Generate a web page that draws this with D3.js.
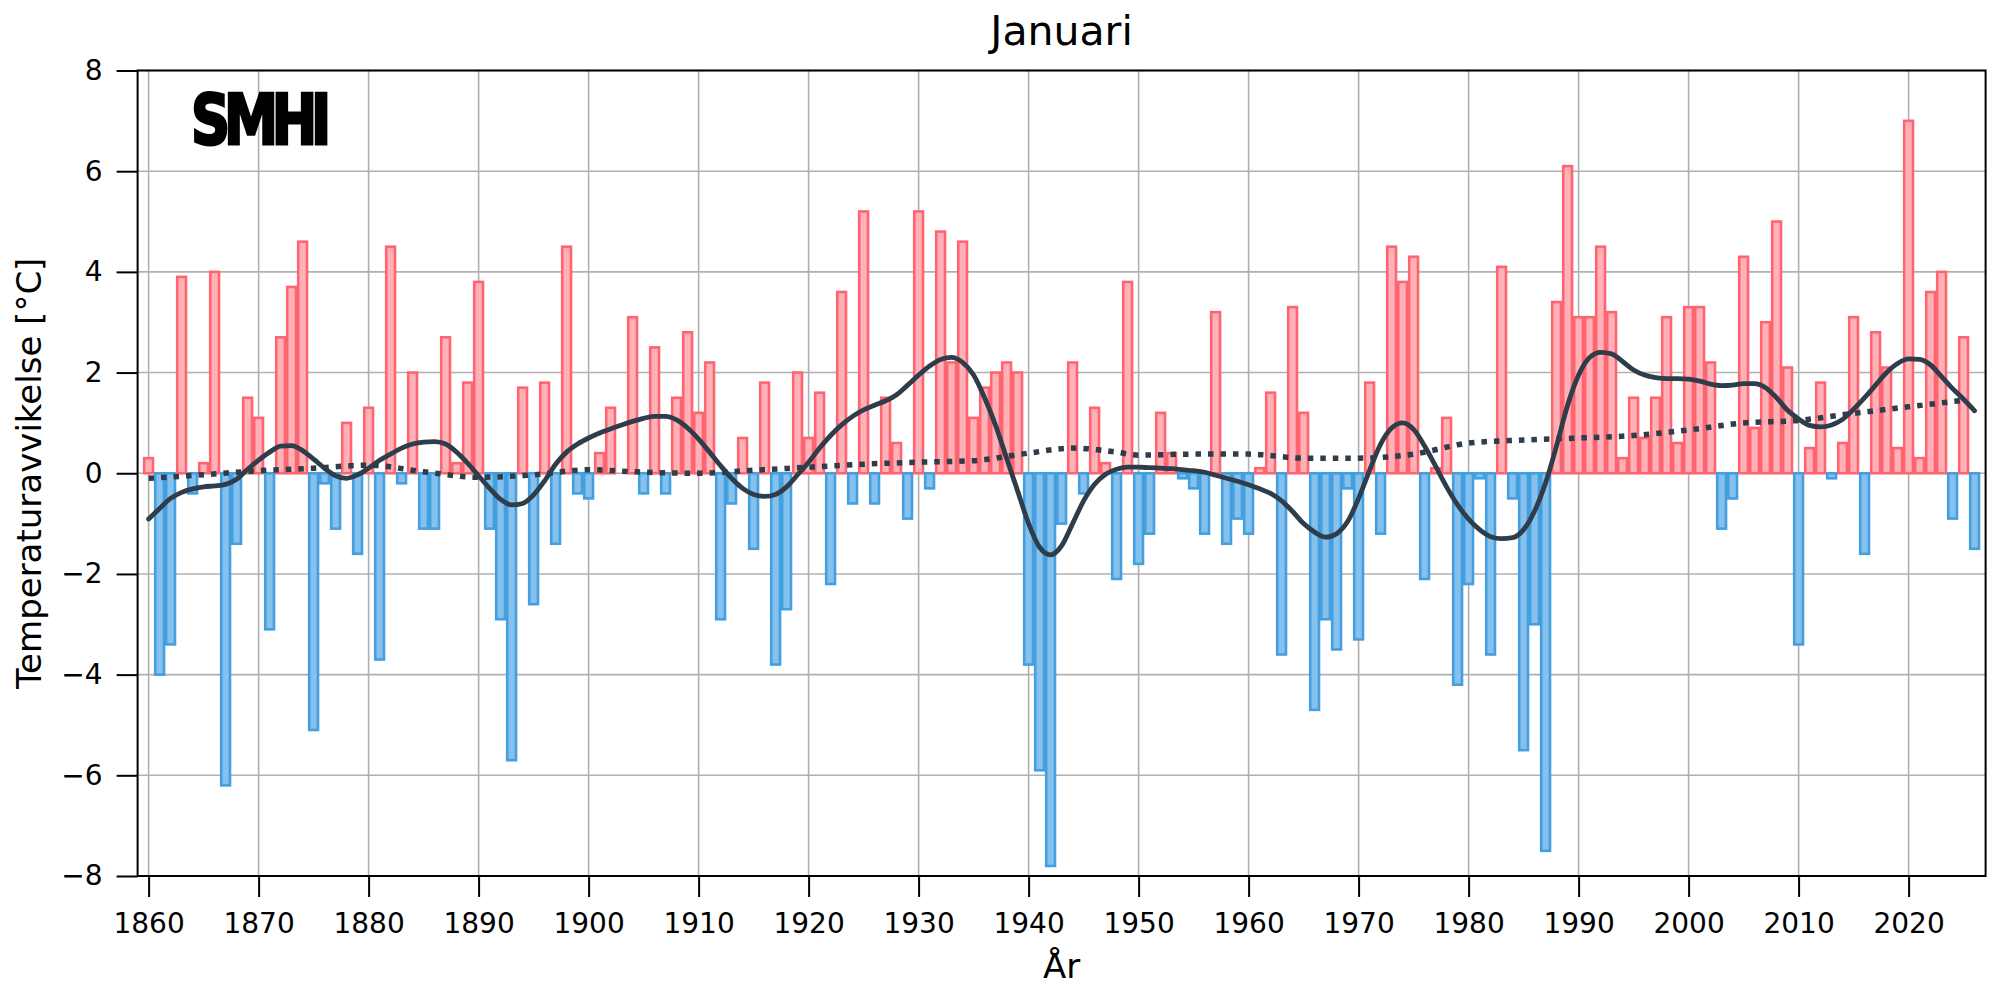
<!DOCTYPE html>
<html>
<head>
<meta charset="utf-8">
<script src="https://cdn.jsdelivr.net/npm/d3@7"></script>
<style>
	body { margin: 0; background: #fff; }
	text { font-family: "DejaVu Sans", sans-serif; }
</style>
</head>
<body>
<svg id="myChart" width="2000" height="1000"></svg>
<script>
// January temperature anomalies, 1860-2026
let firstYear = 1860;
let anomalies = [
	0.3, -4.0, -3.4, 3.9, -0.4, 0.2, 4.0, -6.2, -1.4, 1.5,
	1.1, -3.1, 2.7, 3.7, 4.6, -5.1, -0.2, -1.1, 1.0, -1.6,
	1.3, -3.7, 4.5, -0.2, 2.0, -1.1, -1.1, 2.7, 0.2, 1.8,
	3.8, -1.1, -2.9, -5.7, 1.7, -2.6, 1.8, -1.4, 4.5, -0.4,
	-0.5, 0.4, 1.3, 0.0, 3.1, -0.4, 2.5, -0.4, 1.5, 2.8,
	1.2, 2.2, -2.9, -0.6, 0.7, -1.5, 1.8, -3.8, -2.7, 2.0,
	0.7, 1.6, -2.2, 3.6, -0.6, 5.2, -0.6, 1.5, 0.6, -0.9,
	5.2, -0.3, 4.8, 2.2, 4.6, 1.1, 1.7, 2.0, 2.2, 2.0,
	-3.8, -5.9, -7.8, -1.0, 2.2, -0.4, 1.3, 0.2, -2.1, 3.8,
	-1.8, -1.2, 1.2, 0.4, -0.1, -0.3, -1.2, 3.2, -1.4, -0.9,
	-1.2, 0.1, 1.6, -3.6, 3.3, 1.2, -4.7, -2.9, -3.5, -0.3,
	-3.3, 1.8, -1.2, 4.5, 3.8, 4.3, -2.1, 0.1, 1.1, -4.2,
	-2.2, -0.1, -3.6, 4.1, -0.5, -5.5, -3.0, -7.5, 3.4, 6.1,
	3.1, 3.1, 4.5, 3.2, 0.3, 1.5, 0.7, 1.5, 3.1, 0.6,
	3.3, 3.3, 2.2, -1.1, -0.5, 4.3, 0.9, 3.0, 5.0, 2.1,
	-3.4, 0.5, 1.8, -0.1, 0.6, 3.1, -1.6, 2.8, 2.1, 0.5,
	7.0, 0.3, 3.6, 4.0, -0.9, 2.7, -1.5
];

// smoothed curve (solid), one value per year
let smoothed = [
	-0.91, -0.7, -0.5, -0.38, -0.31, -0.27, -0.25, -0.22, -0.12, 0.08,
	0.26, 0.42, 0.54, 0.55, 0.45, 0.28, 0.1, -0.05, -0.1, -0.03,
	0.1, 0.26, 0.38, 0.5, 0.58, 0.62, 0.63, 0.58, 0.42, 0.2,
	-0.05, -0.3, -0.52, -0.63, -0.6, -0.43, -0.15, 0.18, 0.42, 0.58,
	0.7, 0.8, 0.88, 0.96, 1.03, 1.09, 1.13, 1.13, 1.06, 0.9,
	0.68, 0.42, 0.15, -0.1, -0.3, -0.42, -0.46, -0.42, -0.27, -0.03,
	0.22, 0.5, 0.75, 0.96, 1.13, 1.26, 1.35, 1.44, 1.56, 1.75,
	1.95, 2.13, 2.26, 2.3, 2.2, 1.95, 1.5, 0.95, 0.3, -0.35,
	-1.0, -1.47, -1.62, -1.44, -1.0, -0.55, -0.22, -0.02, 0.08, 0.12,
	0.12, 0.11, 0.1, 0.09, 0.07, 0.05, 0.02, -0.04, -0.1, -0.16,
	-0.23, -0.31, -0.4, -0.55, -0.76, -1.0, -1.17, -1.27, -1.2, -0.96,
	-0.5, 0.06, 0.58, 0.9, 1.0, 0.87, 0.54, 0.14, -0.27, -0.63,
	-0.91, -1.12, -1.26, -1.3, -1.28, -1.12, -0.75, -0.19, 0.55, 1.35,
	1.95, 2.3, 2.4, 2.37, 2.22, 2.05, 1.95, 1.9, 1.88, 1.88,
	1.87, 1.83, 1.77, 1.74, 1.75, 1.78, 1.78, 1.7, 1.5, 1.25,
	1.08, 0.95, 0.92, 0.96, 1.07, 1.27, 1.5, 1.75, 2.0, 2.18,
	2.27, 2.26, 2.15, 1.92, 1.68, 1.47, 1.24
];

// long-term trend (dotted)
let trendYears = [1860, 1865, 1870, 1875, 1880, 1885, 1890, 1895, 1900, 1905, 1910, 1915, 1920, 1925, 1930, 1935, 1940, 1944, 1948, 1950, 1955, 1960, 1965, 1970, 1975, 1980, 1985, 1990, 1995, 2000, 2005, 2010, 2015, 2020, 2025];
let trendValues = [-0.1, -0.03, 0.05, 0.1, 0.16, 0.03, -0.08, -0.03, 0.07, 0.02, 0.0, 0.06, 0.12, 0.18, 0.22, 0.25, 0.4, 0.5, 0.42, 0.36, 0.38, 0.38, 0.3, 0.3, 0.38, 0.6, 0.66, 0.7, 0.75, 0.86, 1.0, 1.05, 1.19, 1.32, 1.45];

let xTicks = [1860, 1870, 1880, 1890, 1900, 1910, 1920, 1930, 1940, 1950, 1960, 1970, 1980, 1990, 2000, 2010, 2020];
let yTicks = [-8, -6, -4, -2, 0, 2, 4, 6, 8];

let bars = anomalies.map((v, i) => ({ year: firstYear + i, value: v }));
let smoothLine = smoothed.map((v, i) => ({ year: firstYear + i, value: v }));
let trendLine = trendYears.map((yr, i) => ({ year: yr, value: trendValues[i] }));

let svg = d3.select('#myChart');

let xScale = d3.scaleLinear()
	.domain([1859, 2027])
	.range([137.6, 1985.6]);

let yScale = d3.scaleLinear()
	.domain([-8, 8])
	.range([876, 70.5]);

let barWidth = xScale(1860.8) - xScale(1860);
let lineColor = '#2e3d49';

// Grid
let grid = svg.append('g').attr('class', 'grid');
grid.selectAll('line.gx')
	.data(xTicks)
	.enter()
	.append('line')
		.attr('x1', d => xScale(d))
		.attr('x2', d => xScale(d))
		.attr('y1', yScale(-8))
		.attr('y2', yScale(8))
		.attr('stroke', '#b0b0b0')
		.attr('stroke-width', 1.6);
grid.selectAll('line.gy')
	.data(yTicks)
	.enter()
	.append('line')
		.attr('x1', xScale(1859))
		.attr('x2', xScale(2027))
		.attr('y1', d => yScale(d))
		.attr('y2', d => yScale(d))
		.attr('stroke', '#b0b0b0')
		.attr('stroke-width', 1.6);

// Bars
svg.append('g')
	.selectAll('rect')
	.data(bars)
	.enter()
	.append('rect')
		.attr('x', d => xScale(d.year) - barWidth / 2)
		.attr('y', d => yScale(Math.max(0, d.value)))
		.attr('width', barWidth)
		.attr('height', d => Math.abs(yScale(d.value) - yScale(0)))
		.attr('fill', d => d.value >= 0 ? '#ffb1b8' : '#85c1ec')
		.attr('stroke', d => d.value >= 0 ? '#ff6471' : '#439fe0')
		.attr('stroke-width', 2.6);

// Trend and smoothed curves
let line = d3.line()
	.x(d => xScale(d.year))
	.y(d => yScale(d.value))
	.curve(d3.curveMonotoneX);

svg.append('path')
	.datum(trendLine)
	.attr('d', line)
	.attr('fill', 'none')
	.attr('stroke', lineColor)
	.attr('stroke-width', 5.5)
	.attr('stroke-dasharray', '5.5,7');

svg.append('path')
	.datum(smoothLine)
	.attr('d', line)
	.attr('fill', 'none')
	.attr('stroke', lineColor)
	.attr('stroke-width', 4.8)
	.attr('stroke-linejoin', 'round')
	.attr('stroke-linecap', 'round');

// Frame
svg.append('rect')
	.attr('x', xScale(1859))
	.attr('y', yScale(8))
	.attr('width', xScale(2027) - xScale(1859))
	.attr('height', yScale(-8) - yScale(8))
	.attr('fill', 'none')
	.attr('stroke', '#000')
	.attr('stroke-width', 2);

// Axes
let xAxis = svg.append('g')
	.attr('transform', `translate(0, ${yScale(-8)})`)
	.call(d3.axisBottom(xScale).tickValues(xTicks).tickSize(21).tickPadding(16).tickFormat(d3.format('d')));

let yAxis = svg.append('g')
	.attr('transform', `translate(${xScale(1859)}, 0)`)
	.call(d3.axisLeft(yScale).tickValues(yTicks).tickSize(21).tickPadding(14).tickFormat(d3.format('d')));

[xAxis, yAxis].forEach(a => {
	a.select('.domain').remove();
	a.selectAll('line').attr('stroke', '#000').attr('stroke-width', 2);
	a.selectAll('text')
		.attr('fill', '#000')
		.style('font-family', '"DejaVu Sans", sans-serif')
		.style('font-size', '28px');
});

// Titles
svg.append('text')
	.attr('x', (xScale(1859) + xScale(2027)) / 2)
	.attr('y', 45)
	.attr('text-anchor', 'middle')
	.style('font-size', '41px')
	.text('Januari');

svg.append('text')
	.attr('x', (xScale(1859) + xScale(2027)) / 2)
	.attr('y', 978)
	.attr('text-anchor', 'middle')
	.style('font-size', '34px')
	.text('År');

svg.append('text')
	.attr('transform', `translate(41, ${(yScale(8) + yScale(-8)) / 2}) rotate(-90)`)
	.attr('text-anchor', 'middle')
	.style('font-size', '34px')
	.text('Temperaturavvikelse [°C]');

// SMHI logo
svg.append('text')
	.attr('x', 191)
	.attr('y', 144)
	.attr('textLength', 134)
	.attr('lengthAdjust', 'spacingAndGlyphs')
	.attr('stroke', '#000')
	.attr('stroke-width', 3)
	.style('font-size', '70px')
	.style('font-weight', 'bold')
	.style('letter-spacing', '-8px')
	.text('SMHI');
</script>
</body>
</html>
